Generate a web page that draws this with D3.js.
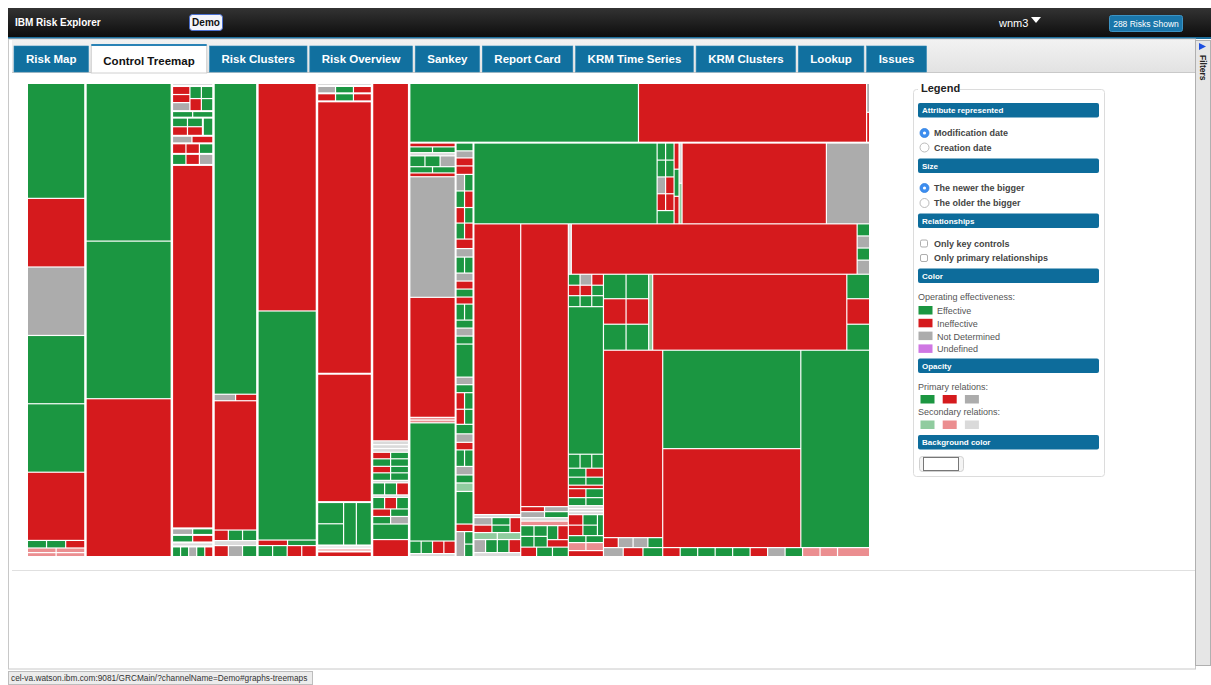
<!DOCTYPE html>
<html><head><meta charset="utf-8">
<script src="https://cdn.jsdelivr.net/npm/d3@7"></script>
<style>
html,body{margin:0;padding:0;background:#fff;overflow:hidden}
svg text{font-family:"Liberation Sans",Arial,Helvetica,sans-serif}
</style></head>
<body><svg id="c" width="1211" height="685"></svg>
<script>
// ---------- DATA ----------
// status codes: E effective, I ineffective, N not determined, U undefined; lower case = secondary relation
const statusNames = ["Effective","Ineffective","Not Determined","Undefined"];
const tabs = ["Risk Map","Control Treemap","Risk Clusters","Risk Overview","Sankey","Report Card","KRM Time Series","KRM Clusters","Lookup","Issues"];

const col1 = [["E",6700],["I",4000],["N",3990],["E",3980],["E",3990],["I",3975],[["E",147],["E",147],["I",147]],[["i",135],["i",135]],[["i",116],["i",116]]];
const col2 = [["E",13530],["E",13520],["I",13545]];
const col3 = [["n",125],[[["I",149],["I",149],["N",149]],[["E",147],["I",147]],[["E",147],["E",147]]],[["E",135],["E",135]],[[[["E",140],["E",140]],[["I",140],["I",140]]],["E",189]],[["N",150],["I",161]],[["I",145],["I",145],["E",145]],[["E",152],["I",152],["N",152]],["I",15000],[["N",135],["E",135]],[["E",155],["I",155]],["n",166],[["E",87],["E",87],["N",87],["E",87],["I",87]]];
const col4 = [["E",13550],[["N",143],["I",141]],["I",5637],[["I",153],["E",153],["E",153]],["n",218],[["I",160],["N",160],["E",160]]];
const col5 = [["I",13461],["E",13550],[["I",165],["E",161]],[["E",163],["E",163],["I",163],["I",163]]];
const col6 = [["n",164],[["N",133],["E",133],["I",133]],[["I",146],["E",146],["I",146]],["I",14862],["I",7003],[[["E",572],["E",572]],["E",562],["E",661]],["n",164],["i",164],["I",301]];
const col7 = [["I",13190],["n",141],["n",141],["n",141],[["I",120],["E",120]],[["E",139],["E",139]],[["I",120],["E",120]],[["E",139],["E",139]],["n",92],[["E",148],["E",148],["I",148]],["n",92],[["E",142],["I",142],["E",142]],[["I",139],["E",139]],[["E",139],["N",139]],["E",574],["I",629]];
const rbTop = [["E",13557],["I",13527],[["N",87],["I",90]]];
const colA = [["I",175],[["E",133],["E",133]],["n",147],[["E",166],["E",166],["N",166]],[["E",143],["E",143]],["I",175],["N",5538],["I",5511],["i",126],["i",126],["E",5428],[["E",144],["E",144],["I",144],["I",144]],["n",138]];
const colB = [["E",139],["N",125],["I",142],["I",151],[["N",147],["E",147]],[["E",147],["I",147]],[["I",138],["E",138]],[["E",142],["I",142]],["I",169],["N",151],[["E",142],["E",142]],["N",142],["I",142],["E",142],["I",125],[["E",142],["E",142]],["E",142],["N",142],["E",142],["E",587],["N",134],["E",142],[["I",147],["E",147]],[["I",134],["E",134]],["E",169],["N",151],["I",134],[["E",147],["E",147]],["N",151],["E",142],["e",151],["E",579],["I",134],[["N",222],[["E",111],["E",111]]]];
const cluster = [[["E",144],["E",144]],[["E",142],["E",142]],[["N",142],["I",142]],[["I",142],["I",142]],["E",224]];
const thinA = [["I",130],["E",135],["I",137]];
const thinB = [["n",120],["e",121]];
const row1 = [["E",14751],cluster,thinA,thinB,["I",11619],["N",3477]];
const colR1 = [["I",13566],["n",140],[[[["N",135],["E",135]],[["I",135],["E",135]]],["I",160]],[["e",163],["e",163]],[["N",152],["E",152],["E",152],["I",152]],["n",187]];
const colR2 = [["I",13419],[["I",119],["N",119]],[["N",142],["E",142]],["n",166],["i",214],[[[["E",142],["E",142]],[["E",142],["E",142]]],[[["E",147],["I",147]],["I",157]]],[["I",150],["E",150],["E",150]]];
const rowA = [["n",150],["I",14350],[["E",150],["N",150],["E",150],["N",175]]];
const colS = [[["E",128],["N",128],["I",128]],[["I",122],["I",122],["E",122]],[["E",128],["E",128],["E",128]],["E",5163],[["E",163],["E",163],["E",163]],[["E",157],["I",157]],[["E",140],["E",140]],["I",122],[["I",157],["E",157]],[["E",140],["E",140]],["n",105],["n",105],["n",105],[[[["I",152],["E",152]],[["I",152],["E",152]]],["E",126]],[["E",122],["E",122]],[["i",140],["i",140]],["I",210]];
const rowB = [[[["E",551],["E",551]],[["I",574],["I",574]],[["E",585],["E",585]]],["e",304],["I",14691],[["E",556],["I",579],["E",590]]];
const colU = [["I",11062],[["I",147],["N",147],["N",147],["E",147]],[["N",177],["I",177],["E",177]]];
const blk = [[["E",13544],["I",13612]],["E",13529]];
const bottomRow = [["I",157],["E",157],["E",157],["E",157],["E",157],["I",157],["N",157],["E",157],["i",157],["i",157],["i",288]];

// ---------- COMPOSE ----------
const rowC = [colU, [blk, bottomRow]];
const colT = [rowB, rowC];
const rightLower = [rowA, [colS, colT]];
const lower = [colR1, colR2, rightLower];
const restRight = [row1, lower];
const rightBlock = [rbTop, [colA, colB, restRight]];
const rootArr = [col1, col2, col3, col4, col5, col6, col7, rightBlock];

const colors = {E:"#1b9641", I:"#d51a1d", N:"#acacac", U:"#cf77e3", e:"#90cc9f", i:"#eb8e90", n:"#dadada"};

function build(n){ return typeof n[0] === "string" ? {status:n[0], value:n[1]} : {children:n.map(build)}; }

const svg = d3.select("#c");

// ---------- CHROME ----------
svg.append("rect").attr("x",0).attr("y",0).attr("width",1211).attr("height",685).attr("fill","#fff");
const defs = svg.append("defs");
const hg = defs.append("linearGradient").attr("id","hdr").attr("x1",0).attr("x2",0).attr("y1",0).attr("y2",1);
hg.append("stop").attr("offset","0").attr("stop-color","#333");
hg.append("stop").attr("offset","1").attr("stop-color","#0d0d0d");
const tg = defs.append("linearGradient").attr("id","tabbar").attr("x1",0).attr("x2",0).attr("y1",0).attr("y2",1);
tg.append("stop").attr("offset","0").attr("stop-color","#f2f2f2");
tg.append("stop").attr("offset","1").attr("stop-color","#e2e2e2");

svg.append("rect").attr("x",8).attr("y",8).attr("width",1203).attr("height",29).attr("fill","url(#hdr)");
svg.append("rect").attr("x",8).attr("y",37).attr("width",1203).attr("height",2).attr("fill","#1e6f9c");
svg.append("text").attr("x",15).attr("y",26).attr("fill","#fff").attr("font-size",10).attr("font-weight","bold").text("IBM Risk Explorer");
svg.append("rect").attr("x",189.5).attr("y",14.5).attr("width",33).attr("height",16).attr("rx",3).attr("fill","#f4f4fb").attr("stroke","#4a6fd0");
svg.append("text").attr("x",206).attr("y",26).attr("text-anchor","middle").attr("font-size",10).attr("font-weight","bold").attr("fill","#111").text("Demo");
svg.append("text").attr("x",999).attr("y",27).attr("fill","#fff").attr("font-size",11).text("wnm3");
svg.append("path").attr("d","M1031,17 L1041,17 L1036,23 Z").attr("fill","#fff");
svg.append("rect").attr("x",1109.5).attr("y",15.5).attr("width",73).attr("height",16).attr("rx",2).attr("fill","#1a76aa").attr("stroke","#3c93c4");
svg.append("text").attr("x",1146).attr("y",26.5).attr("text-anchor","middle").attr("fill","#fff").attr("font-size",8.5).text("288 Risks Shown");

// content frame
svg.append("rect").attr("x",8.5).attr("y",39).attr("width",1187).attr("height",630).attr("fill","#fff").attr("stroke","#c8c8c8");
svg.append("rect").attr("x",12).attr("y",40).attr("width",1183).attr("height",33).attr("fill","url(#tabbar)");
svg.append("line").attr("x1",12).attr("x2",1195).attr("y1",72.5).attr("y2",72.5).attr("stroke","#c9c9c9");
svg.append("line").attr("x1",12).attr("x2",1195).attr("y1",570.5).attr("y2",570.5).attr("stroke","#e0e0e0");

// tabs
const tabG = svg.append("g");
let tx = 14;
tabs.forEach((t,i) => {
  const active = i === 1;
  const g = tabG.append("g");
  const r = g.append("rect");
  const txt = g.append("text").attr("font-size",11.5).attr("font-weight","bold").attr("fill", active ? "#111" : "#fff").text(t);
  const w = txt.node().getComputedTextLength() + 24;
  r.attr("x",tx).attr("y",active?45:46).attr("width",w).attr("height",active?28:26)
   .attr("fill",active?"#fff":"#11709f").attr("stroke",active?"#d0d0d0":"#2b86b5").attr("stroke-width",active?1:0.6);
  if(active) g.append("rect").attr("x",tx).attr("y",44).attr("width",w).attr("height",2).attr("fill","#2a83b6");
  txt.attr("x",tx + w/2).attr("y",active?64.5:63).attr("text-anchor","middle");
  tx += w + 2.8;
});

// filters panel
svg.append("rect").attr("x",1195.5).attr("y",40.5).attr("width",15).attr("height",625).attr("fill","#e6e6e6").attr("stroke","#b0b0b0");
svg.append("path").attr("d","M1199,43 L1206,46.5 L1199,50 Z").attr("fill","#1d4fe0");
svg.append("text").attr("transform","translate(1200,55) rotate(90)").attr("font-size",8.5).attr("font-weight","bold").attr("fill","#222").text("Filters");

// status bar
svg.append("rect").attr("x",8.5).attr("y",671.5).attr("width",304).attr("height",13).attr("fill","#ececec").attr("stroke","#bdbdbd");
svg.append("text").attr("x",11).attr("y",681).attr("font-size",8.3).attr("fill","#333").text("cel-va.watson.ibm.com:9081/GRCMain/?channelName=Demo#graphs-treemaps");

// ---------- TREEMAP ----------
const root = d3.hierarchy(build(rootArr)).sum(d => d.value || 0);
d3.treemap().size([841,472]).tile(d3.treemapSliceDice)
  .paddingInner(n => n.depth === 0 ? 2.5 : (n.depth <= 2 && n.height > 2 ? 2 : 1.2))(root);

const tm = svg.append("g").attr("transform","translate(28,84)");
tm.selectAll("rect").data(root.leaves()).join("rect")
  .attr("x", d => d.x0).attr("y", d => d.y0)
  .attr("width", d => Math.max(0, d.x1 - d.x0)).attr("height", d => Math.max(0, d.y1 - d.y0))
  .attr("fill", d => colors[d.data.status]);

// ---------- LEGEND ----------
const L = svg.append("g");
L.append("rect").attr("x",913.5).attr("y",89.5).attr("width",191).attr("height",387).attr("rx",3).attr("fill","#fff").attr("stroke","#dcdcdc");
L.append("rect").attr("x",918).attr("y",84).attr("width",42).attr("height",10).attr("fill","#fff");
L.append("text").attr("x",921).attr("y",92).attr("font-size",11).attr("fill","#222").attr("font-weight","bold").text("Legend");

const sections = [["Attribute represented",103],["Size",158.5],["Relationships",213.5],["Color",268.5],["Opacity",358.5],["Background color",435]];
sections.forEach(([t,y]) => {
  L.append("rect").attr("x",918).attr("y",y).attr("width",181).attr("height",14.5).attr("rx",2).attr("fill","#0d6c9b");
  L.append("text").attr("x",922).attr("y",y+10).attr("font-size",8).attr("font-weight","bold").attr("fill","#fff").text(t);
});
const radios = [["Modification date",133,true],["Creation date",147.5,false],["The newer the bigger",188,true],["The older the bigger",203,false]];
radios.forEach(([t,y,on]) => {
  L.append("circle").attr("cx",924.5).attr("cy",y).attr("r",4.5).attr("fill",on?"#3d8ef0":"#fff").attr("stroke",on?"#2f7fe0":"#aaa").attr("stroke-width",0.8);
  if(on) L.append("circle").attr("cx",924.5).attr("cy",y).attr("r",1.6).attr("fill","#fff");
  L.append("text").attr("x",934).attr("y",y+3.2).attr("font-size",9).attr("font-weight","bold").attr("fill","#444").text(t);
});
[["Only key controls",243.5],["Only primary relationships",258]].forEach(([t,y]) => {
  L.append("rect").attr("x",920.5).attr("y",y-3.5).attr("width",7).attr("height",7).attr("rx",1.5).attr("fill","#fff").attr("stroke","#999").attr("stroke-width",0.8);
  L.append("text").attr("x",934).attr("y",y+3.2).attr("font-size",9).attr("font-weight","bold").attr("fill","#444").text(t);
});
L.append("text").attr("x",918).attr("y",300).attr("font-size",9).attr("fill","#555").text("Operating effectiveness:");
const mainCodes = ["E","I","N","U"];
statusNames.forEach((t,i) => {
  const y = 306 + i*12.8;
  L.append("rect").attr("x",918.5).attr("y",y).attr("width",14).attr("height",8.5).attr("fill",colors[mainCodes[i]]);
  L.append("text").attr("x",937).attr("y",y+8).attr("font-size",9).attr("fill","#555").text(t);
});
L.append("text").attr("x",918).attr("y",390).attr("font-size",9).attr("fill","#555").text("Primary relations:");
["E","I","N"].forEach((c,i) => L.append("rect").attr("x",920.5+i*22.2).attr("y",395).attr("width",14).attr("height",8.5).attr("fill",colors[c]));
L.append("text").attr("x",918).attr("y",415).attr("font-size",9).attr("fill","#555").text("Secondary relations:");
["e","i","n"].forEach((c,i) => L.append("rect").attr("x",920.5+i*22.2).attr("y",420.5).attr("width",14).attr("height",8.5).attr("fill",colors[c]));
L.append("rect").attr("x",919.5).attr("y",456.5).attr("width",44).attr("height",15).attr("rx",3).attr("fill","#f4f4f4").attr("stroke","#d0d0d0");
L.append("rect").attr("x",923.5).attr("y",457.5).attr("width",35).attr("height",13).attr("fill","#fff").attr("stroke","#777");
</script>
</body></html>
